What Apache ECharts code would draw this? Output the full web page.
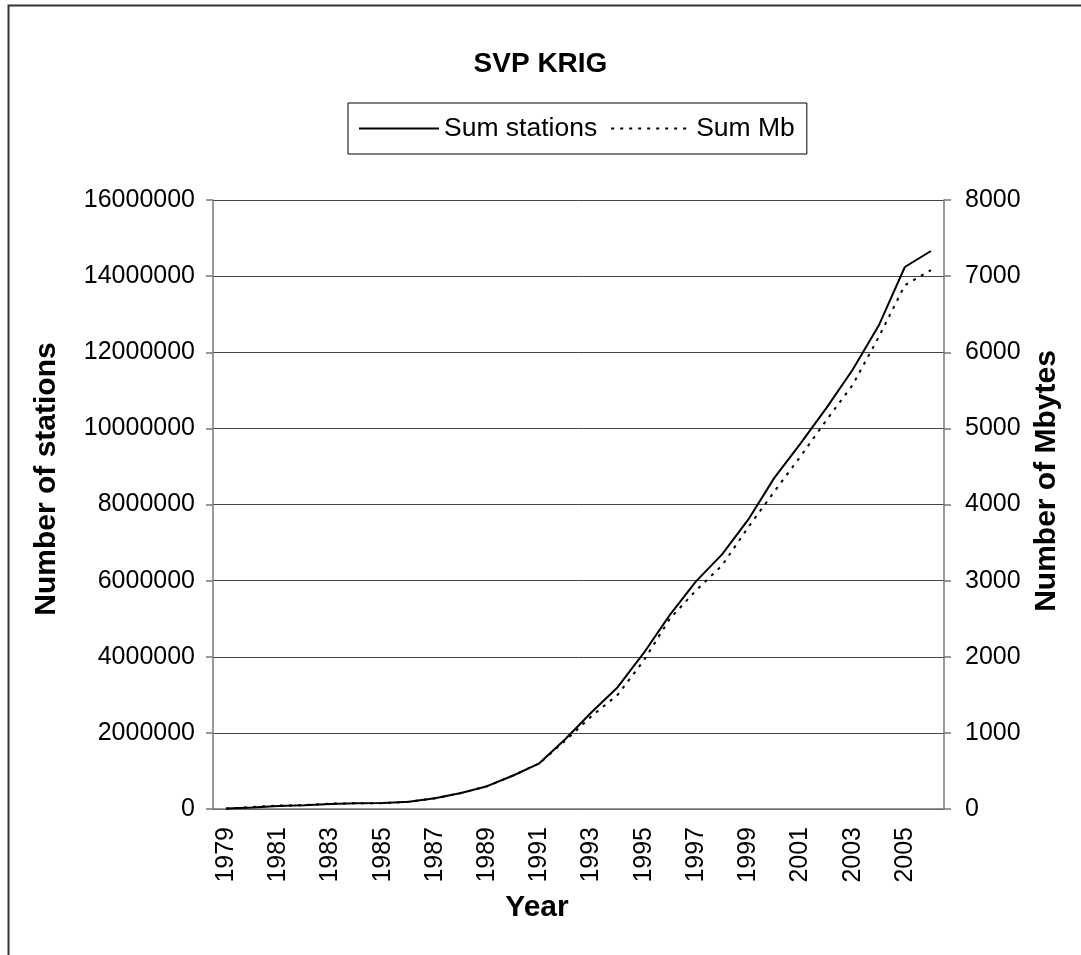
<!DOCTYPE html>
<html><head><meta charset="utf-8">
<script src="https://cdn.jsdelivr.net/npm/echarts@6/dist/echarts.min.js"></script>
<style>html,body{margin:0;padding:0;background:#fff}#c{width:1081px;height:955px}</style>
</head><body><div id="c"></div>
<script>
const years = ['1979','1980','1981','1982','1983','1984','1985','1986','1987','1988','1989','1990','1991','1992','1993','1994','1995','1996','1997','1998','1999','2000','2001','2002','2003','2004','2005','2006'];
const sumStations = [10000,40000,80000,100000,130000,150000,160000,190000,280000,420000,600000,880000,1200000,1840000,2540000,3200000,4100000,5100000,5980000,6690000,7600000,8700000,9600000,10540000,11540000,12700000,14240000,14660000];
const sumMb = [5,25,45,50,70,75,75,95,140,210,300,440,600,900,1220,1500,1950,2500,2870,3200,3700,4170,4630,5110,5570,6200,6880,7080];
const leftTicks = [0,2000000,4000000,6000000,8000000,10000000,12000000,14000000,16000000];
const rightTicks = [0,1000,2000,3000,4000,5000,6000,7000,8000];

const FONT = 'Liberation Sans, Arial, sans-serif';
const chart = echarts.init(document.getElementById('c'), null, {renderer:'canvas'});
chart.setOption({
  backgroundColor:'#fff',
  animation:false,
  title:{text:'SVP KRIG', left:'center', top:45, textStyle:{fontFamily:FONT, fontSize:28, fontWeight:'bold', color:'#000'}},
  legend:{
    left:348, top:103, orient:'horizontal',
    borderColor:'#000', borderWidth:1, padding:[12,12,12,10],
    itemWidth:80, itemHeight:26, itemGap:13,
    itemStyle:{opacity:0},
    textStyle:{fontFamily:FONT, fontSize:26.5, color:'#000'},
    data:['Sum stations','Sum Mb']
  },
  graphic:[
    {type:'rect', shape:{x:8.5,y:5.5,width:1200,height:1200}, style:{fill:null, stroke:'#333', lineWidth:2}, silent:true},
    {type:'text', x:47, y:479, rotation:Math.PI/2, style:{text:'Number of stations', fontFamily:FONT, fontSize:30, fontWeight:'bold', fill:'#000', align:'center', verticalAlign:'middle'}},
    {type:'text', x:1047, y:481, rotation:Math.PI/2, style:{text:'Number of Mbytes', fontFamily:FONT, fontSize:30, fontWeight:'bold', fill:'#000', align:'center', verticalAlign:'middle'}},
    {type:'text', x:537, y:908, style:{text:'Year', fontFamily:FONT, fontSize:30, fontWeight:'bold', fill:'#000', align:'center', verticalAlign:'middle'}}
  ],
  grid:{left:213, right:137, top:200, bottom:146, containLabel:false},
  xAxis:{
    type:'category', data:years, boundaryGap:true,
    axisLine:{lineStyle:{color:'#777', width:1.5}},
    axisTick:{interval:0, length:7, lineStyle:{color:'#777', width:1.5}},
    axisLabel:{interval:1, rotate:90, margin:18, fontFamily:FONT, fontSize:25, color:'#000'}
  },
  yAxis:[
    {type:'value', min:leftTicks[0], max:leftTicks[leftTicks.length-1], interval:leftTicks[1]-leftTicks[0], position:'left',
     axisLine:{show:true, lineStyle:{color:'#777', width:1.5}},
     axisTick:{show:true, length:7, lineStyle:{color:'#777', width:1.5}},
     axisLabel:{margin:18, fontFamily:FONT, fontSize:25, color:'#000', formatter:v=>String(v)},
     splitLine:{show:true, lineStyle:{color:'#444', width:1}}},
    {type:'value', min:rightTicks[0], max:rightTicks[rightTicks.length-1], interval:rightTicks[1]-rightTicks[0], position:'right',
     axisLine:{show:true, lineStyle:{color:'#777', width:1.5}},
     axisTick:{show:true, length:7, lineStyle:{color:'#777', width:1.5}},
     axisLabel:{margin:21, fontFamily:FONT, fontSize:25, color:'#000', formatter:v=>String(v)},
     splitLine:{show:false}}
  ],
  series:[
    {name:'Sum stations', type:'line', yAxisIndex:0, data:sumStations, symbol:'none', showSymbol:false,
     lineStyle:{color:'#000', width:2, type:'solid'}, itemStyle:{color:'#000'}},
    {name:'Sum Mb', type:'line', yAxisIndex:1, data:sumMb, symbol:'none', showSymbol:false,
     lineStyle:{color:'#000', width:2, type:[3,6]}, itemStyle:{color:'#000'}}
  ]
});
</script></body></html>
